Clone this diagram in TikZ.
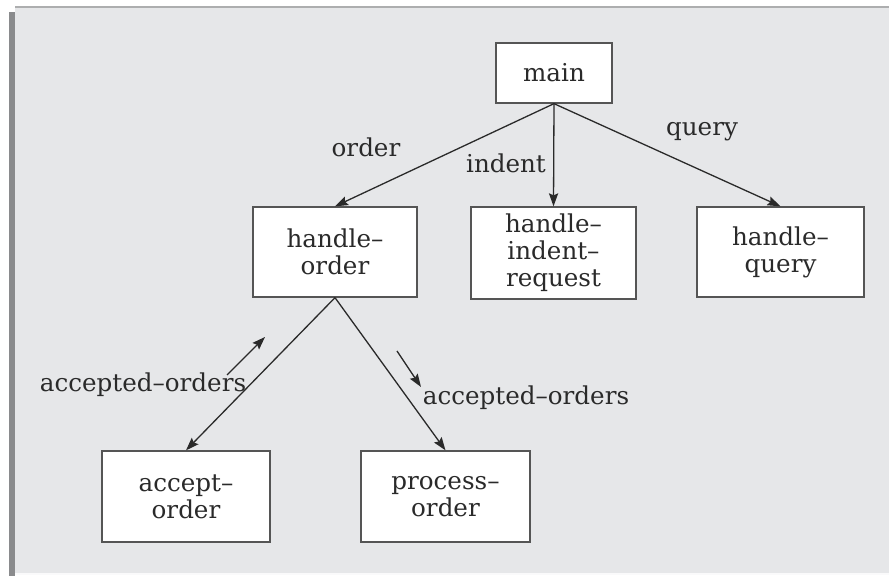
\documentclass[tikz,border=0pt]{standalone}
\usepackage{fontspec}
\setmainfont{DejaVu Serif}
\usepackage{xcolor}
\usetikzlibrary{calc, positioning, arrows.meta}

\definecolor{paneGray}{HTML}{E6E7E9}
\definecolor{edgeGray}{HTML}{8A8B8D}
\definecolor{inkGray}{HTML}{2A2A2A}

\tikzset{
    module/.style={draw=inkGray!80, fill=white, line width=0.65pt, align=center,
        inner sep=0pt, font=\fontsize{12.3}{13.6}\selectfont, text=inkGray},
    flow/.style={->, draw=inkGray, line width=0.65pt},
    flag/.style={font=\fontsize{12.3}{13.6}\selectfont, text=inkGray}
}

\begin{document}
\begin{tikzpicture}[x=0.5pt, y=-0.5pt, >={Stealth[length=6.5pt, width=4.6pt, inset=1pt]}]
    \useasboundingbox (0,0) rectangle (889,576);
    % Khung nền xám
    \fill[paneGray] (15,7) rectangle (889,573);
    \draw[edgeGray!70, line width=1pt] (15,7) -- (889,7);
    \fill[edgeGray] (9,12) rectangle (15,576);
    \draw[white!80!paneGray, line width=1pt] (15,574) -- (889,574);

    % Các mô-đun
    \node[module, minimum width=58pt, minimum height=30pt] (main) at (554,73) {main};
    \node[module, minimum width=82pt, minimum height=45pt] (hOrder) at (335,252) {handle–\\order};
    \node[module, minimum width=82.5pt, minimum height=46pt] (hIndent) at (553.5,253) {handle–\\indent–\\request};
    \node[module, minimum width=83.5pt, minimum height=45pt] (hQuery) at (780.5,252) {handle–\\query};
    \node[module, minimum width=84pt, minimum height=45.5pt] (aOrder) at (186,496.5) {accept–\\order};
    \node[module, minimum width=84.5pt, minimum height=45.5pt] (pOrder) at (445.5,496.5) {process–\\order};

    % Các cung nối
    \draw[flow] (main.south) -- (hOrder.north);
    \draw[flow] (main.south) -- (hIndent.north);
    \draw[flow] (main.south) -- (hQuery.north);
    \draw[flow] (hOrder.south) -- (aOrder.north);
    \draw[flow] (hOrder.south) -- (pOrder.north);

    % Mũi tên chỉ hướng dữ liệu
    \coordinate (upA) at (227,375);
    \coordinate (upB) at (265,337);
    \coordinate (dnA) at (397,351);
    \coordinate (dnB) at (421,387);
    \draw[flow] (upA) -- (upB);
    \draw[flow] (dnA) -- (dnB);

    % Nhãn
    \node[flag] (lOrder) at (366,147) {order};
    \node[flag] (lIndent) at (506,163) {indent};
    \node[flag] (lQuery) at (702,132) {query};
    \node[flag] (lAccL) at (143,385) {accepted–orders};
    \node[flag] (lAccR) at (526,398) {accepted–orders};
\end{tikzpicture}
\end{document}
